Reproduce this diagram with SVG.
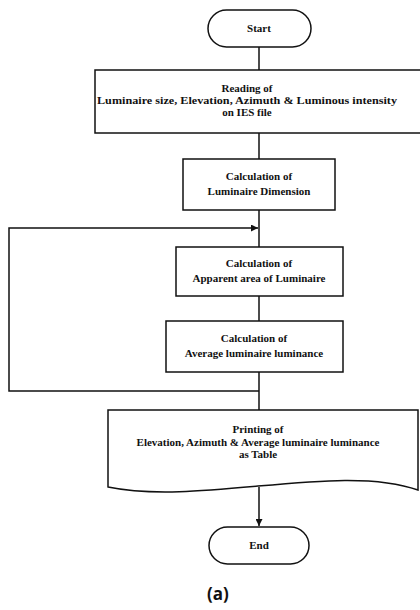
<svg xmlns="http://www.w3.org/2000/svg" width="420" height="610" viewBox="0 0 420 610">
  <style>
    .shape { fill: #ffffff; stroke: #111111; stroke-width: 1.5; }
    .wire { fill: none; stroke: #111111; stroke-width: 1.5; }
    .label { font-family: "Liberation Serif", "Times New Roman", serif; font-weight: bold; font-size: 11px; fill: #111111; text-anchor: middle; }
    .caption { font-family: "Open Sans", "Liberation Sans", sans-serif; font-weight: bold; font-size: 17px; fill: #111111; text-anchor: middle; }
  </style>
  <defs>
    <marker id="arrow" viewBox="0 0 10 10" refX="10" refY="5" markerWidth="7" markerHeight="7" markerUnits="userSpaceOnUse" orient="auto">
      <path d="M0,0 L10,5 L0,10 Z" fill="#111111"/>
    </marker>
  </defs>
  <rect width="420" height="610" fill="#ffffff"/>

  <!-- connectors -->
  <g id="connectors">
    <line class="wire" x1="259" y1="47" x2="259" y2="70"/>
    <line class="wire" x1="259" y1="133" x2="259" y2="159"/>
    <line class="wire" x1="259" y1="210" x2="259" y2="247"/>
    <line class="wire" x1="259" y1="296" x2="259" y2="321"/>
    <line class="wire" x1="259" y1="372" x2="259" y2="410"/>
    <!-- loop back to the apparent-area step -->
    <path class="wire" d="M259,391 H9 V228 H258" marker-end="url(#arrow)"/>
    <line class="wire" x1="259" y1="487" x2="259" y2="526" marker-end="url(#arrow)"/>
  </g>

  <g id="start">
    <rect class="shape" x="208" y="10" width="103" height="37" rx="18.5"/>
    <text class="label" x="259" y="32">Start</text>
  </g>

  <g id="read-ies">
    <rect class="shape" x="95" y="70" width="340" height="63"/>
    <text class="label" x="247" y="92">Reading of</text>
    <text class="label" x="247" y="104" textLength="300" lengthAdjust="spacingAndGlyphs">Luminaire size, Elevation, Azimuth &amp; Luminous intensity</text>
    <text class="label" x="247" y="116">on IES file</text>
  </g>

  <g id="calc-dimension">
    <rect class="shape" x="183" y="159" width="152" height="51"/>
    <text class="label" x="259" y="180">Calculation of</text>
    <text class="label" x="259" y="195">Luminaire Dimension</text>
  </g>

  <g id="calc-apparent-area">
    <rect class="shape" x="176" y="247" width="167" height="49"/>
    <text class="label" x="259" y="267">Calculation of</text>
    <text class="label" x="259" y="282">Apparent area of Luminaire</text>
  </g>

  <g id="calc-luminance">
    <rect class="shape" x="166" y="321" width="177" height="51"/>
    <text class="label" x="254" y="342">Calculation of</text>
    <text class="label" x="254" y="357">Average luminaire luminance</text>
  </g>

  <g id="print-table">
    <path class="shape" d="M108,410 H418 V490 C340,462 200,506 108,487 Z"/>
    <text class="label" x="258" y="433">Printing of</text>
    <text class="label" x="258" y="446">Elevation, Azimuth &amp; Average luminaire luminance</text>
    <text class="label" x="258" y="458">as Table</text>
  </g>

  <g id="end">
    <rect class="shape" x="209" y="527" width="100" height="37" rx="18.5"/>
    <text class="label" x="259" y="549">End</text>
  </g>

  <text class="caption" x="218" y="600">(a)</text>
</svg>
